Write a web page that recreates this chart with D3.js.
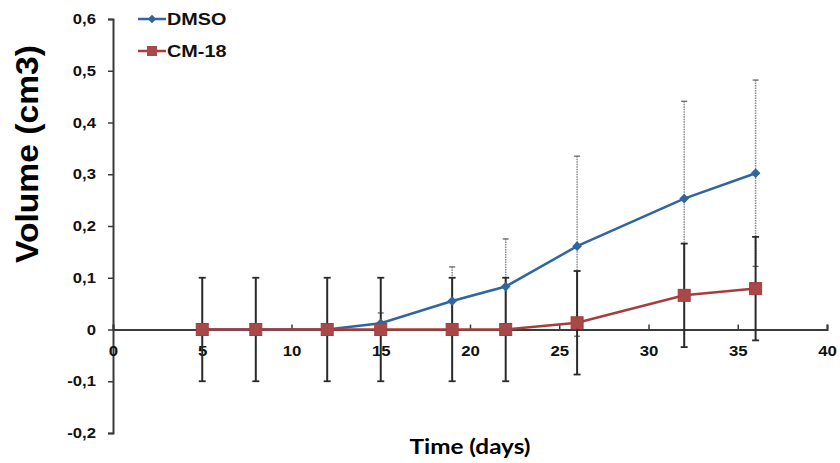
<!DOCTYPE html>
<html><head><meta charset="utf-8">
<script src="https://cdn.jsdelivr.net/npm/d3@7"></script>
<style>body{margin:0;background:#fff}svg{display:block}</style>
</head><body>
<svg id="c" width="840" height="463"></svg>
<script>
const days = [5, 8, 12, 15, 19, 22, 26, 32, 36];
const dmso = [0, 0, 0, 0.012, 0.055, 0.083, 0.161, 0.253, 0.302];
const dmsoErr = [0, 0, 0, 0.02, 0.066, 0.092, 0.174, 0.188, 0.18];
const cm18 = [0, 0, 0, 0, 0, 0, 0.013, 0.066, 0.079];
const cm18Err = [0.1, 0.1, 0.1, 0.1, 0.1, 0.1, 0.1, 0.1, 0.1];
const xTicks = [0, 5, 10, 15, 20, 25, 30, 35, 40];
const yTicks = [-0.2, -0.1, 0, 0.1, 0.2, 0.3, 0.4, 0.5, 0.6];
const seriesNames = ["DMSO", "CM-18"];

const svg = d3.select("#c");
const x = d3.scaleLinear().domain([0, 40]).range([113, 827]);
const y = d3.scaleLinear().domain([-0.2, 0.6]).range([433, 19]);
const axisCol = "#3a3a3a";
const FONT = "Liberation Sans, Arial, sans-serif";
const fmt = v => (Math.abs(v) < 1e-9 ? "0" : d3.format(".1f")(v).replace(".", ",").replace("−", "-"));

function stretch(sel, f) {
  sel.each(function () {
    const w = this.getComputedTextLength();
    d3.select(this).attr("textLength", w * f).attr("lengthAdjust", "spacingAndGlyphs");
  });
}

// Y axis
const gy = svg.append("g").attr("transform", `translate(${x(0)},0)`)
  .call(d3.axisLeft(y).tickValues(yTicks).tickSize(5).tickPadding(12).tickFormat(fmt));
gy.select(".domain").attr("stroke", axisCol).attr("stroke-width", 2);
gy.selectAll(".tick line").attr("stroke", axisCol).attr("stroke-width", 1.5);
gy.selectAll(".tick text").attr("font-family", FONT)
  .attr("font-weight", "bold").attr("font-size", 14.5).attr("fill", "#111");
stretch(gy.selectAll(".tick text"), 1.15);

// X axis at y=0
const gx = svg.append("g").attr("transform", `translate(0,${y(0)})`)
  .call(d3.axisBottom(x).tickValues(xTicks).tickSize(-5).tickPadding(16).tickFormat(d => d));
gx.select(".domain").attr("stroke", axisCol).attr("stroke-width", 2);
gx.selectAll(".tick line").attr("stroke", axisCol).attr("stroke-width", 1.5);
gx.selectAll(".tick text").attr("font-family", FONT)
  .attr("font-weight", "bold").attr("font-size", 15).attr("fill", "#111");
stretch(gx.selectAll(".tick text"), 1.12);

const blue = "#2f65a0", red = "#a83c3c";

// DMSO error bars (gray dotted)
const eb1 = svg.append("g");
days.forEach((d, i) => {
  if (dmsoErr[i] <= 0) return;
  const cx = x(d), t = y(dmso[i] + dmsoErr[i]), b = y(dmso[i] - dmsoErr[i]);
  eb1.append("line").attr("x1", cx).attr("x2", cx).attr("y1", t).attr("y2", b)
    .attr("stroke", "#8a8a8a").attr("stroke-width", 1.5).attr("stroke-dasharray", "1.5,1");
  [t, b].forEach(yy => eb1.append("line").attr("x1", cx - 3).attr("x2", cx + 3).attr("y1", yy).attr("y2", yy)
    .attr("stroke", "#666").attr("stroke-width", 1.3));
});

// CM-18 error bars (black)
const eb2 = svg.append("g");
days.forEach((d, i) => {
  const cx = x(d), t = y(cm18[i] + cm18Err[i]), b = y(cm18[i] - cm18Err[i]);
  eb2.append("line").attr("x1", cx).attr("x2", cx).attr("y1", t).attr("y2", b)
    .attr("stroke", "#2a2a2a").attr("stroke-width", 2);
  [t, b].forEach(yy => eb2.append("line").attr("x1", cx - 3.5).attr("x2", cx + 3.5).attr("y1", yy).attr("y2", yy)
    .attr("stroke", "#2a2a2a").attr("stroke-width", 1.8));
});

const line = d3.line().x(d => x(d[0])).y(d => y(d[1]));
const dm = days.map((d, i) => [d, dmso[i]]);
const cm = days.map((d, i) => [d, cm18[i]]);

svg.append("path").datum(dm).attr("d", line).attr("fill", "none").attr("stroke", blue).attr("stroke-width", 2.5);
svg.append("g").selectAll("path").data(dm).join("path")
  .attr("transform", d => `translate(${x(d[0])},${y(d[1])})`)
  .attr("d", d3.symbol(d3.symbolDiamond2, 60)).attr("fill", blue);

svg.append("path").datum(cm).attr("d", line).attr("fill", "none").attr("stroke", red).attr("stroke-width", 2.5);
svg.append("g").selectAll("rect").data(cm).join("rect")
  .attr("x", d => x(d[0]) - 6).attr("y", d => y(d[1]) - 6).attr("width", 12).attr("height", 12)
  .attr("fill", "#a84848").attr("stroke", red).attr("stroke-width", 1);

// Legend
const leg = [{name: seriesNames[0], col: blue, sym: "d", yy: 19}, {name: seriesNames[1], col: red, sym: "s", yy: 51}];
leg.forEach(l => {
  svg.append("line").attr("x1", 138).attr("x2", 166).attr("y1", l.yy).attr("y2", l.yy)
    .attr("stroke", l.col).attr("stroke-width", 2.5);
  if (l.sym === "d") svg.append("path").attr("transform", `translate(152,${l.yy})`)
    .attr("d", d3.symbol(d3.symbolDiamond2, 45)).attr("fill", l.col);
  else svg.append("rect").attr("x", 147).attr("y", l.yy - 5).attr("width", 10).attr("height", 10).attr("fill", "#a84848");
  const t = svg.append("text").attr("x", 167).attr("y", l.yy + 6).text(l.name)
    .attr("font-family", FONT).attr("font-weight", "bold")
    .attr("font-size", 16.5).attr("fill", "#111");
  stretch(t, 1.2);
});

// Axis titles
svg.append("text").attr("transform", "translate(38,154) rotate(-90)").attr("text-anchor", "middle")
  .text("Volume (cm3)").attr("font-family", FONT).attr("font-weight", "bold")
  .attr("font-size", 32).attr("fill", "#000")
  .attr("textLength", 218).attr("lengthAdjust", "spacingAndGlyphs");
svg.append("text").attr("x", 470).attr("y", 454).attr("text-anchor", "middle")
  .text("Time (days)").attr("font-family", "Lato, Open Sans, sans-serif").attr("font-weight", "bold")
  .attr("font-size", 21).attr("fill", "#000")
  .attr("textLength", 121).attr("lengthAdjust", "spacingAndGlyphs");
</script>
</body></html>
